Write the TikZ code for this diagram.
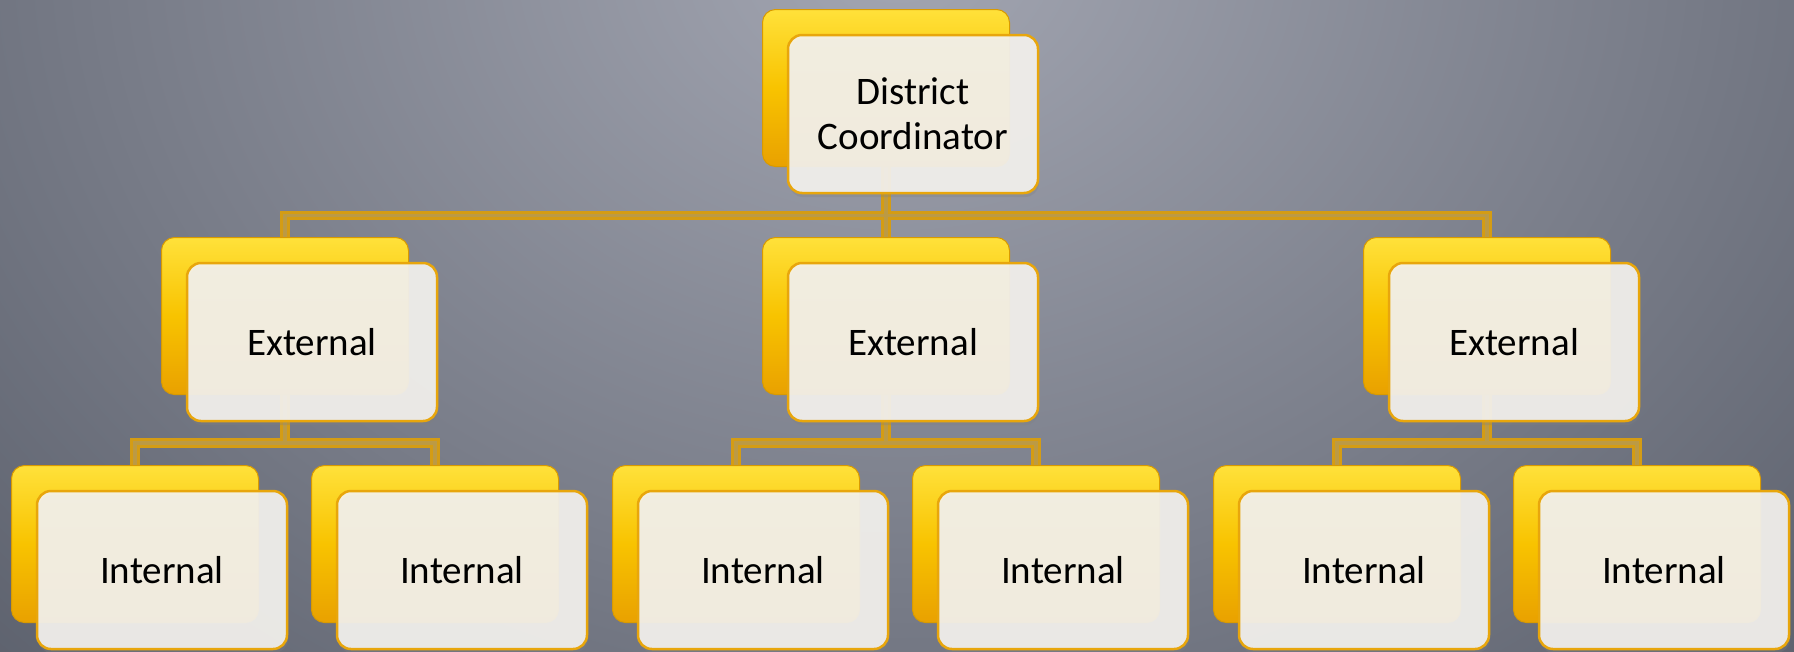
\documentclass[tikz,border=0pt]{standalone}
\usepackage{fontspec}
\setmainfont{Carlito}
\usetikzlibrary{shadows,calc}
\pgfdeclarelayer{backdrop}
\pgfdeclarelayer{links}
\pgfsetlayers{backdrop,links,main}

\definecolor{goldtop}{HTML}{FFE13A}
\definecolor{goldmid}{HTML}{F8C300}
\definecolor{goldbot}{HTML}{E9A100}
\definecolor{goldedge}{HTML}{D99A00}
\definecolor{cardfill}{HTML}{F4F2EE}
\definecolor{cardedge}{HTML}{E8A60C}
\definecolor{linkout}{HTML}{D49C14}
\definecolor{linkin}{HTML}{BC9A44}
\definecolor{bgin}{HTML}{A3A6B2}
\definecolor{bgout}{HTML}{4B505C}

\tikzset{
  backcard/.style={rectangle, rounded corners=13pt, minimum width=247pt,
    minimum height=157pt, top color=goldtop, bottom color=goldbot,
    middle color=goldmid, draw=goldedge, line width=1pt, outer sep=0pt},
  frontcard/.style={rectangle, rounded corners=14pt, minimum width=250pt,
    minimum height=158pt, fill=cardfill, fill opacity=0.92, text opacity=1,
    draw=cardedge, line width=2.5pt, align=center,
    font=\fontsize{39}{45}\selectfont, outer sep=0pt,
    drop shadow={shadow xshift=1pt, shadow yshift=-4pt, opacity=0.3}},
  link/.style={draw=linkout, line width=3pt, double=linkin, double distance=3.5pt}
}

\begin{document}
\begin{tikzpicture}[x=1pt, y=-1pt]
\useasboundingbox (0,0) rectangle (1794,651);

% backdrop
\begin{pgfonlayer}{backdrop}
  \begin{scope}
    \clip (0,0) rectangle (1794,651);
    \shade[inner color=bgin, outer color=bgout] (-703,-1350) rectangle (2497,1250);
  \end{scope}
\end{pgfonlayer}

% top level
\node[backcard]  (dcb) at (886,88) {};
\node[frontcard] (dc)  at (913,114) {District\\Coordinator};

% second level
\node[backcard]  (e1b) at (285,316) {};
\node[frontcard] (e1)  at (312,342) {External};
\node[backcard]  (e2b) at (886,316) {};
\node[frontcard] (e2)  at (913,342) {External};
\node[backcard]  (e3b) at (1487,316) {};
\node[frontcard] (e3)  at (1514,342) {External};

% third level
\node[backcard]  (i1b) at (135,544) {};
\node[frontcard] (i1)  at (162,570) {Internal};
\node[backcard]  (i2b) at (435,544) {};
\node[frontcard] (i2)  at (462,570) {Internal};
\node[backcard]  (i3b) at (736,544) {};
\node[frontcard] (i3)  at (763,570) {Internal};
\node[backcard]  (i4b) at (1036,544) {};
\node[frontcard] (i4)  at (1063,570) {Internal};
\node[backcard]  (i5b) at (1337,544) {};
\node[frontcard] (i5)  at (1364,570) {Internal};
\node[backcard]  (i6b) at (1637,544) {};
\node[frontcard] (i6)  at (1664,570) {Internal};

% connectors
\begin{pgfonlayer}{links}
  \draw[link] (e1b.north) |- ($(dcb.south)+(0,49)$) -| (e3b.north)
              (dcb.south) -- (e2b.north);
  \draw[link] (i1b.north) |- ($(e1b.south)+(0,48.5)$) -| (i2b.north)
              (e1b.south) -- ++(0,48.5);
  \draw[link] (i3b.north) |- ($(e2b.south)+(0,48.5)$) -| (i4b.north)
              (e2b.south) -- ++(0,48.5);
  \draw[link] (i5b.north) |- ($(e3b.south)+(0,48.5)$) -| (i6b.north)
              (e3b.south) -- ++(0,48.5);
\end{pgfonlayer}
\end{tikzpicture}
\end{document}
